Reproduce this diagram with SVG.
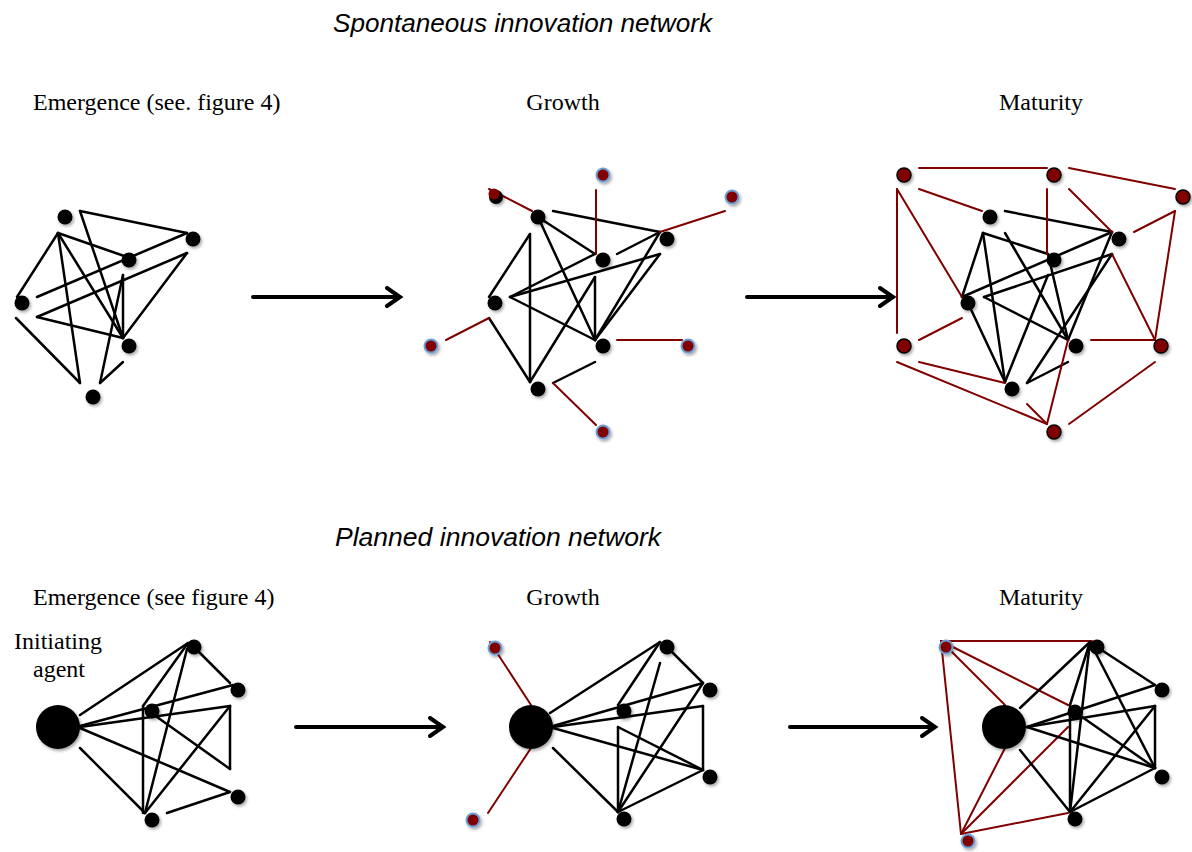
<svg xmlns="http://www.w3.org/2000/svg" width="1192" height="852" viewBox="0 0 1192 852">
<defs>
<filter id="sh" x="-50%" y="-50%" width="200%" height="200%">
<feDropShadow dx="1.5" dy="2" stdDeviation="1.5" flood-color="#000" flood-opacity="0.35"/>
</filter>
</defs>
<style>
.t{font-family:"Liberation Sans",Arial,sans-serif;font-style:italic;font-size:26px;fill:#000}
.l{font-family:"Liberation Serif","Times New Roman",serif;font-size:24px;fill:#000}
.k line{stroke:#000;stroke-width:2.5;stroke-linecap:round}
.r line{stroke:#800000;stroke-width:2;stroke-linecap:round}
.a{stroke:#000;stroke-width:4;fill:none;stroke-linecap:round;stroke-linejoin:miter}
.n{fill:#000;filter:url(#sh)}
.rb{fill:#800000;stroke:#6b9fd6;stroke-width:2;filter:url(#sh)}
.rk{fill:#800000;stroke:#000;stroke-width:1.5;filter:url(#sh)}
</style>
<rect width="1192" height="852" fill="#fff"/>
<text class="t" x="333" y="32" textLength="379" lengthAdjust="spacingAndGlyphs">Spontaneous innovation network</text>
<text class="t" x="335" y="546" textLength="326" lengthAdjust="spacingAndGlyphs">Planned innovation network</text>
<text class="l" x="33" y="110">Emergence (see. figure 4)</text>
<text class="l" x="563" y="110" text-anchor="middle">Growth</text>
<text class="l" x="1041" y="110" text-anchor="middle">Maturity</text>
<text class="l" x="33" y="605">Emergence (see figure 4)</text>
<text class="l" x="563" y="605" text-anchor="middle">Growth</text>
<text class="l" x="1041" y="605" text-anchor="middle">Maturity</text>
<text class="l" x="58" y="649" text-anchor="middle">Initiating</text>
<text class="l" x="59" y="677" text-anchor="middle">agent</text>

<g id="connectors">
<g id="arrows">
<path class="a" d="M253,297 H399 M387,288 L400,297 L387,306"/>
<path class="a" d="M747,297 H892 M880,288 L893,297 L880,306"/>
<path class="a" d="M296,727 H442 M430,718 L443,727 L430,736"/>
<path class="a" d="M790,727 H934 M922,718 L935,727 L922,736"/>
</g>
<g class="k" id="e1-links">
<line x1="80" y1="211" x2="187" y2="233"/>
<line x1="80" y1="211" x2="123" y2="338"/>
<line x1="58" y1="233" x2="17" y2="297"/>
<line x1="58" y1="233" x2="127" y2="257"/>
<line x1="58" y1="233" x2="80" y2="383"/>
<line x1="58" y1="233" x2="123" y2="338"/>
<line x1="37" y1="297" x2="187" y2="233"/>
<line x1="37" y1="317" x2="187" y2="253"/>
<line x1="37" y1="317" x2="123" y2="338"/>
<line x1="123" y1="338" x2="187" y2="253"/>
<line x1="123" y1="275" x2="123" y2="338"/>
<line x1="123" y1="275" x2="100" y2="383"/>
<line x1="16" y1="318" x2="80" y2="383"/>
<line x1="100" y1="383" x2="123" y2="362"/>
</g>
<g class="k" id="g1-links">
<line x1="538" y1="217" x2="595" y2="254"/>
<line x1="553" y1="211" x2="660" y2="232"/>
<line x1="538" y1="217" x2="595" y2="340"/>
<line x1="530" y1="234" x2="489" y2="297"/>
<line x1="530" y1="234" x2="530" y2="382"/>
<line x1="510" y1="297" x2="595" y2="254"/>
<line x1="510" y1="297" x2="660" y2="254"/>
<line x1="510" y1="297" x2="595" y2="340"/>
<line x1="595" y1="340" x2="660" y2="232"/>
<line x1="595" y1="340" x2="660" y2="254"/>
<line x1="595" y1="277" x2="595" y2="340"/>
<line x1="595" y1="277" x2="530" y2="382"/>
<line x1="617" y1="254" x2="660" y2="232"/>
<line x1="489" y1="318" x2="530" y2="382"/>
<line x1="553" y1="383" x2="595" y2="362"/>
</g>
<g class="r" id="g1-red">
<line x1="489" y1="189" x2="532" y2="211"/>
<line x1="596" y1="190" x2="596" y2="254"/>
<line x1="660" y1="232" x2="725" y2="211"/>
<line x1="446" y1="340" x2="489" y2="318"/>
<line x1="617" y1="340" x2="682" y2="340"/>
<line x1="553" y1="383" x2="596" y2="425"/>
</g>
<g class="k" id="m1-links">
<line x1="1005" y1="211" x2="1112" y2="232"/>
<line x1="983" y1="233" x2="962" y2="297"/>
<line x1="983" y1="233" x2="1005" y2="382"/>
<line x1="983" y1="233" x2="1048" y2="254"/>
<line x1="1005" y1="233" x2="1068" y2="340"/>
<line x1="962" y1="297" x2="1112" y2="232"/>
<line x1="984" y1="297" x2="1112" y2="254"/>
<line x1="984" y1="297" x2="1068" y2="340"/>
<line x1="968" y1="303" x2="1005" y2="382"/>
<line x1="1005" y1="382" x2="1048" y2="275"/>
<line x1="1048" y1="254" x2="1068" y2="340"/>
<line x1="1068" y1="340" x2="1112" y2="232"/>
<line x1="1027" y1="383" x2="1112" y2="254"/>
<line x1="1027" y1="383" x2="1068" y2="362"/>
</g>
<g class="r" id="m1-red">
<line x1="919" y1="168" x2="1047" y2="168"/>
<line x1="1069" y1="168" x2="1175" y2="189"/>
<line x1="919" y1="189" x2="982" y2="211"/>
<line x1="897" y1="189" x2="897" y2="333"/>
<line x1="897" y1="189" x2="962" y2="297"/>
<line x1="1047" y1="189" x2="1047" y2="254"/>
<line x1="1069" y1="189" x2="1112" y2="232"/>
<line x1="1134" y1="232" x2="1175" y2="211"/>
<line x1="1175" y1="211" x2="1155" y2="340"/>
<line x1="1112" y1="254" x2="1155" y2="340"/>
<line x1="919" y1="340" x2="962" y2="318"/>
<line x1="1091" y1="340" x2="1155" y2="340"/>
<line x1="919" y1="362" x2="1005" y2="383"/>
<line x1="897" y1="362" x2="1047" y2="424"/>
<line x1="1027" y1="404" x2="1047" y2="424"/>
<line x1="1068" y1="340" x2="1047" y2="424"/>
<line x1="1069" y1="424" x2="1155" y2="362"/>
</g>
<g class="k" id="e2-links">
<line x1="80" y1="715" x2="188" y2="643"/>
<line x1="80" y1="726" x2="233" y2="685"/>
<line x1="80" y1="727" x2="230" y2="706"/>
<line x1="80" y1="728" x2="230" y2="792"/>
<line x1="80" y1="748" x2="145" y2="813"/>
<line x1="194" y1="647" x2="230" y2="683"/>
<line x1="143" y1="706" x2="188" y2="643"/>
<line x1="143" y1="706" x2="143" y2="813"/>
<line x1="145" y1="813" x2="187" y2="649"/>
<line x1="145" y1="813" x2="230" y2="706"/>
<line x1="230" y1="706" x2="230" y2="769"/>
<line x1="157" y1="717" x2="230" y2="769"/>
<line x1="167" y1="813" x2="230" y2="792"/>
</g>
<g class="k" id="g2-links">
<line x1="550" y1="713" x2="660" y2="642"/>
<line x1="553" y1="726" x2="703" y2="683"/>
<line x1="553" y1="727" x2="703" y2="706"/>
<line x1="553" y1="728" x2="703" y2="770"/>
<line x1="553" y1="748" x2="618" y2="812"/>
<line x1="660" y1="642" x2="618" y2="705"/>
<line x1="660" y1="663" x2="618" y2="812"/>
<line x1="667" y1="647" x2="703" y2="683"/>
<line x1="703" y1="706" x2="703" y2="770"/>
<line x1="618" y1="727" x2="703" y2="770"/>
<line x1="618" y1="727" x2="618" y2="812"/>
<line x1="618" y1="812" x2="703" y2="683"/>
<line x1="618" y1="812" x2="703" y2="770"/>
</g>
<g class="r" id="g2-red">
<line x1="490" y1="642" x2="531" y2="705"/>
<line x1="531" y1="748" x2="488" y2="813"/>
</g>
<g class="r" id="m2-red">
<line x1="941" y1="641" x2="1092" y2="641"/>
<line x1="941" y1="641" x2="961" y2="834"/>
<line x1="941" y1="641" x2="1005" y2="705"/>
<line x1="941" y1="641" x2="1068" y2="705"/>
<line x1="961" y1="834" x2="1005" y2="748"/>
<line x1="961" y1="834" x2="1068" y2="727"/>
<line x1="961" y1="834" x2="1068" y2="813"/>
</g>
<g class="k" id="m2-links">
<line x1="1020" y1="708" x2="1090" y2="642"/>
<line x1="1090" y1="642" x2="1070" y2="705"/>
<line x1="1090" y1="642" x2="1070" y2="812"/>
<line x1="1097" y1="647" x2="1155" y2="685"/>
<line x1="1090" y1="642" x2="1155" y2="768"/>
<line x1="1027" y1="727" x2="1155" y2="685"/>
<line x1="1027" y1="727" x2="1155" y2="706"/>
<line x1="1027" y1="727" x2="1155" y2="768"/>
<line x1="1155" y1="706" x2="1155" y2="768"/>
<line x1="1155" y1="706" x2="1070" y2="812"/>
<line x1="1075" y1="712" x2="1155" y2="768"/>
<line x1="1070" y1="705" x2="1070" y2="812"/>
<line x1="1070" y1="812" x2="1155" y2="768"/>
<line x1="1020" y1="750" x2="1070" y2="812"/>
</g>
</g>

<g id="nodes-e1">
<circle id="e1a" class="n" cx="65" cy="217" r="7.5"/>
<circle id="e1b" class="n" cx="193" cy="239" r="7.5"/>
<circle id="e1c" class="n" cx="129" cy="260" r="7.5"/>
<circle id="e1d" class="n" cx="22" cy="303" r="7.5"/>
<circle id="e1e" class="n" cx="129" cy="346" r="7.5"/>
<circle id="e1f" class="n" cx="93" cy="397" r="7.5"/>
</g>
<g id="nodes-g1">
<circle id="g1x" class="n" cx="496" cy="197" r="7"/>
<circle id="g1r1" cx="494" cy="194" r="5.5" fill="#800000"/>
<circle id="g1a" class="n" cx="538" cy="217" r="7.5"/>
<circle id="g1b" class="n" cx="667" cy="239" r="7.5"/>
<circle id="g1c" class="n" cx="603" cy="260" r="7.5"/>
<circle id="g1d" class="n" cx="495" cy="303" r="7.5"/>
<circle id="g1e" class="n" cx="603" cy="346" r="7.5"/>
<circle id="g1f" class="n" cx="538" cy="389" r="7.5"/>
<circle id="g1r2" class="rb" cx="603" cy="175" r="6.5"/>
<circle id="g1r3" class="rb" cx="732" cy="197" r="6.5"/>
<circle id="g1r4" class="rb" cx="431" cy="346" r="6.5"/>
<circle id="g1r5" class="rb" cx="688" cy="346" r="6.5"/>
<circle id="g1r6" class="rb" cx="603" cy="432" r="6.5"/>
</g>
<g id="nodes-m1">
<circle id="m1a" class="n" cx="990" cy="217" r="7.5"/>
<circle id="m1b" class="n" cx="1119" cy="239" r="7.5"/>
<circle id="m1c" class="n" cx="1054" cy="260" r="7.5"/>
<circle id="m1d" class="n" cx="968" cy="303" r="7.5"/>
<circle id="m1e" class="n" cx="1076" cy="346" r="7.5"/>
<circle id="m1f" class="n" cx="1012" cy="389" r="7.5"/>
<circle id="m1r1" class="rk" cx="904" cy="175" r="7"/>
<circle id="m1r2" class="rk" cx="1054" cy="175" r="7"/>
<circle id="m1r3" class="rk" cx="1183" cy="197" r="7"/>
<circle id="m1r4" class="rk" cx="904" cy="346" r="7"/>
<circle id="m1r5" class="rk" cx="1161" cy="346" r="7"/>
<circle id="m1r6" class="rk" cx="1054" cy="432" r="7"/>
</g>
<g id="nodes-e2">
<circle id="e2big" class="n" cx="58" cy="727" r="22"/>
<circle id="e2a" class="n" cx="194" cy="647" r="7.5"/>
<circle id="e2b" class="n" cx="238" cy="690" r="7.5"/>
<circle id="e2c" class="n" cx="152" cy="711" r="7.5"/>
<circle id="e2d" class="n" cx="238" cy="797" r="7.5"/>
<circle id="e2e" class="n" cx="152" cy="820" r="7.5"/>
</g>
<g id="nodes-g2">
<circle id="g2big" class="n" cx="531" cy="727" r="22"/>
<circle id="g2a" class="n" cx="667" cy="647" r="7.5"/>
<circle id="g2b" class="n" cx="710" cy="690" r="7.5"/>
<circle id="g2c" class="n" cx="624" cy="711" r="7.5"/>
<circle id="g2d" class="n" cx="710" cy="777" r="7.5"/>
<circle id="g2e" class="n" cx="624" cy="819" r="7.5"/>
<circle id="g2r1" class="rb" cx="495" cy="648" r="6.5"/>
<circle id="g2r2" class="rb" cx="473" cy="820" r="6.5"/>
</g>
<g id="nodes-m2">
<circle id="m2big" class="n" cx="1004" cy="727" r="22"/>
<circle id="m2a" class="n" cx="1097" cy="647" r="7.5"/>
<circle id="m2b" class="n" cx="1162" cy="690" r="7.5"/>
<circle id="m2c" class="n" cx="1075" cy="712" r="7.5"/>
<circle id="m2d" class="n" cx="1162" cy="777" r="7.5"/>
<circle id="m2e" class="n" cx="1075" cy="819" r="7.5"/>
<circle id="m2r1" class="rb" cx="946" cy="647" r="6.5"/>
<circle id="m2r2" class="rb" cx="968" cy="841" r="6.5"/>
</g>
</svg>
